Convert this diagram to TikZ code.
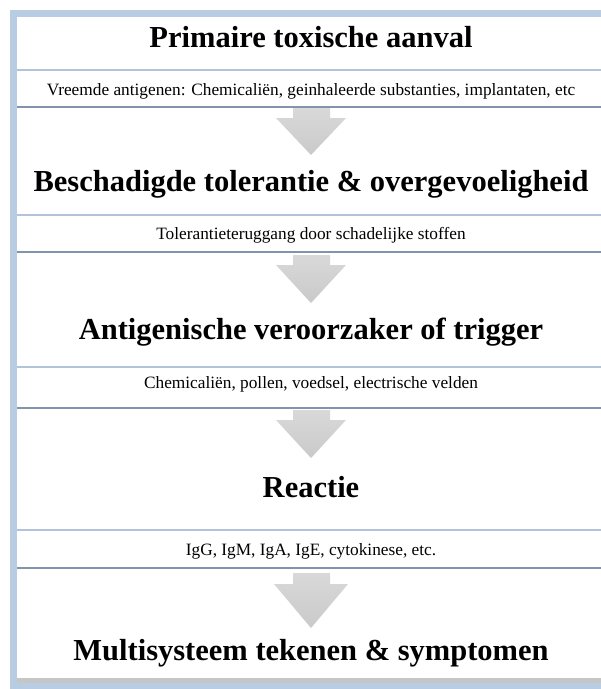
\documentclass[tikz,border=0pt]{standalone}
\usepackage{fontspec}
\setmainfont{Liberation Serif}
\definecolor{frameblue}{HTML}{B8CCE4}
\definecolor{linelight}{HTML}{B3C4DA}
\definecolor{linedark}{HTML}{8293AE}
\definecolor{shadowgray}{HTML}{C6C6C6}
\tikzset{
  titletext/.style={font=\bfseries\fontsize{30.5}{36}\selectfont, anchor=base, inner sep=0pt},
  subtext/.style={font=\fontsize{17.3}{20}\selectfont, anchor=base, inner sep=0pt},
  toprule/.style={draw=linelight, line width=1.6pt},
  botrule/.style={draw=linedark, line width=2pt},
  arrowfill/.style={top color=gray!30, middle color=gray!50, bottom color=gray!42, draw=none},
}
\begin{document}
\begin{tikzpicture}[x=1pt,y=-1pt]
\useasboundingbox (0,0) rectangle (601,689);
% frame
\fill[frameblue] (10,10) rectangle (601,689);
\fill[shadowgray] (17,676) rectangle (601,683);
\fill[white] (17,17) rectangle (601,678);
% separator rules
\foreach \a/\b in {70/107, 215/252, 367/408, 530/568}{
  \draw[toprule] (17,\a) -- (601,\a);
  \draw[botrule] (17,\b) -- (601,\b);
}
% arrows
\foreach \t/\h/\l/\w in {108/10/37/35, 255/10/38/35, 410/10/38/35, 573/11/44/37}{
  \shade[arrowfill] (293,\t) -- (330,\t) -- (330,\t+\h) -- (311+\w,\t+\h)
     -- (311,\t+\h+\l) -- (311-\w,\t+\h) -- (293,\t+\h) -- cycle;
}
% titles
\node[titletext] (t1) at (311,47) {Primaire toxische aanval};
\node[titletext] (t2) at (311,191) {Beschadigde tolerantie \& overgevoeligheid};
\node[titletext] (t3) at (311,339) {Antigenische veroorzaker of trigger};
\node[titletext] (t4) at (311,497) {Reactie};
\node[titletext] (t5) at (311,660) {Multisysteem tekenen \& symptomen};
% sub texts
\node[subtext] (s1) at (311,95) {Vreemde antigenen: Chemicaliën, geinhaleerde substanties, implantaten, etc};
\node[subtext] (s2) at (311,239) {Tolerantieteruggang door schadelijke stoffen};
\node[subtext] (s3) at (311,388) {Chemicaliën, pollen, voedsel, electrische velden};
\node[subtext] (s4) at (311,555) {IgG, IgM, IgA, IgE, cytokinese, etc.};
\end{tikzpicture}
\end{document}
